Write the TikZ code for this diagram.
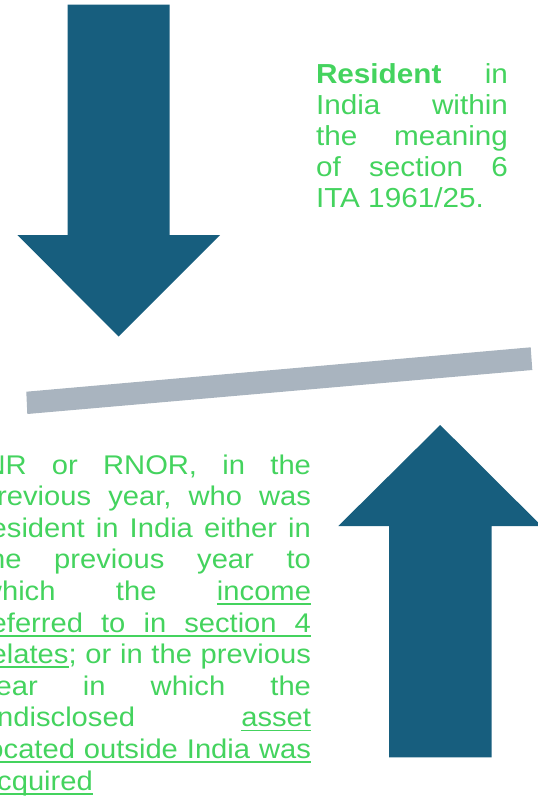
\documentclass[tikz,border=0pt]{standalone}
\usepackage{fontspec}
\setmainfont{Liberation Sans}[FakeStretch=1.08]
\definecolor{arrowblue}{RGB}{23,94,126}
\definecolor{bargrey}{RGB}{169,180,191}
\definecolor{textgreen}{RGB}{68,211,94}

% underlined word, rule at a fixed distance below the baseline
\newcommand\ulword[1]{\setbox0=\hbox{#1}\rlap{\rule[-4.6pt]{\wd0}{1.9pt}}\box0}
% one justified line of width #1
\newcommand\jline[2]{\hbox to #1{#2}}
% one justified line, underlined over its full width
\newcommand\ulline[2]{\hbox to #1{\rlap{\rule[-4.6pt]{#1}{1.9pt}}#2}}

\tikzset{
  bigarrow/.style={fill=arrowblue},
  balance/.style={fill=bargrey},
  para/.style={inner sep=0pt, outer sep=0pt, anchor=base west, text=textgreen},
}

\begin{document}
\begin{tikzpicture}[x=1pt, y=-1pt]
  \useasboundingbox (0,0) rectangle (538,796);
  \clip (0,0) rectangle (538,796);

  % downward arrow, top left
  \fill[bigarrow] (67.5,4.5) -- (169.5,4.5) -- (169.5,235) -- (220,235)
    -- (118.7,336.5) -- (17.3,235) -- (67.5,235) -- cycle;

  % upward arrow, bottom right
  \fill[bigarrow] (389,757.3) -- (491.5,757.3) -- (491.5,526) -- (541.6,526)
    -- (440.2,425) -- (338.3,526) -- (389,526) -- cycle;

  % tilted bar between the arrows
  \fill[balance] (26.3,391.7) -- (530.7,347.3) -- (532.3,370) -- (27.3,414) -- cycle;

  % definition of resident
  \node[para] (resident) at (316,83.3) {%
    \fontsize{27.5pt}{31.1pt}\selectfont\frenchspacing
    \vtop{\baselineskip=31.1pt \lineskiplimit=-100pt
      \jline{192pt}{\textbf{Resident} in}
      \jline{192pt}{India within}
      \jline{192pt}{the meaning}
      \jline{192pt}{of section 6}
      \hbox{ITA 1961/25.}}};

  % conditions for NR / RNOR, first line indented
  \node[para] (conditions) at (-19,474) {%
    \fontsize{27pt}{31.6pt}\selectfont\frenchspacing
    \vtop{\baselineskip=31.6pt \lineskiplimit=-100pt
      \jline{330pt}{\hskip3.5pt NR or RNOR, in the}
      \jline{330pt}{previous year, who was}
      \jline{330pt}{resident in India either in}
      \jline{330pt}{the previous year to}
      \jline{330pt}{which the \ulword{income}}
      \ulline{330pt}{referred to in section 4}
      \jline{330pt}{\ulword{relates}; or in the previous}
      \jline{330pt}{year in which the}
      \jline{330pt}{undisclosed \ulword{asset}}
      \ulline{330pt}{located outside India was}
      \hbox{\ulword{acquired}}}};
\end{tikzpicture}
\end{document}
